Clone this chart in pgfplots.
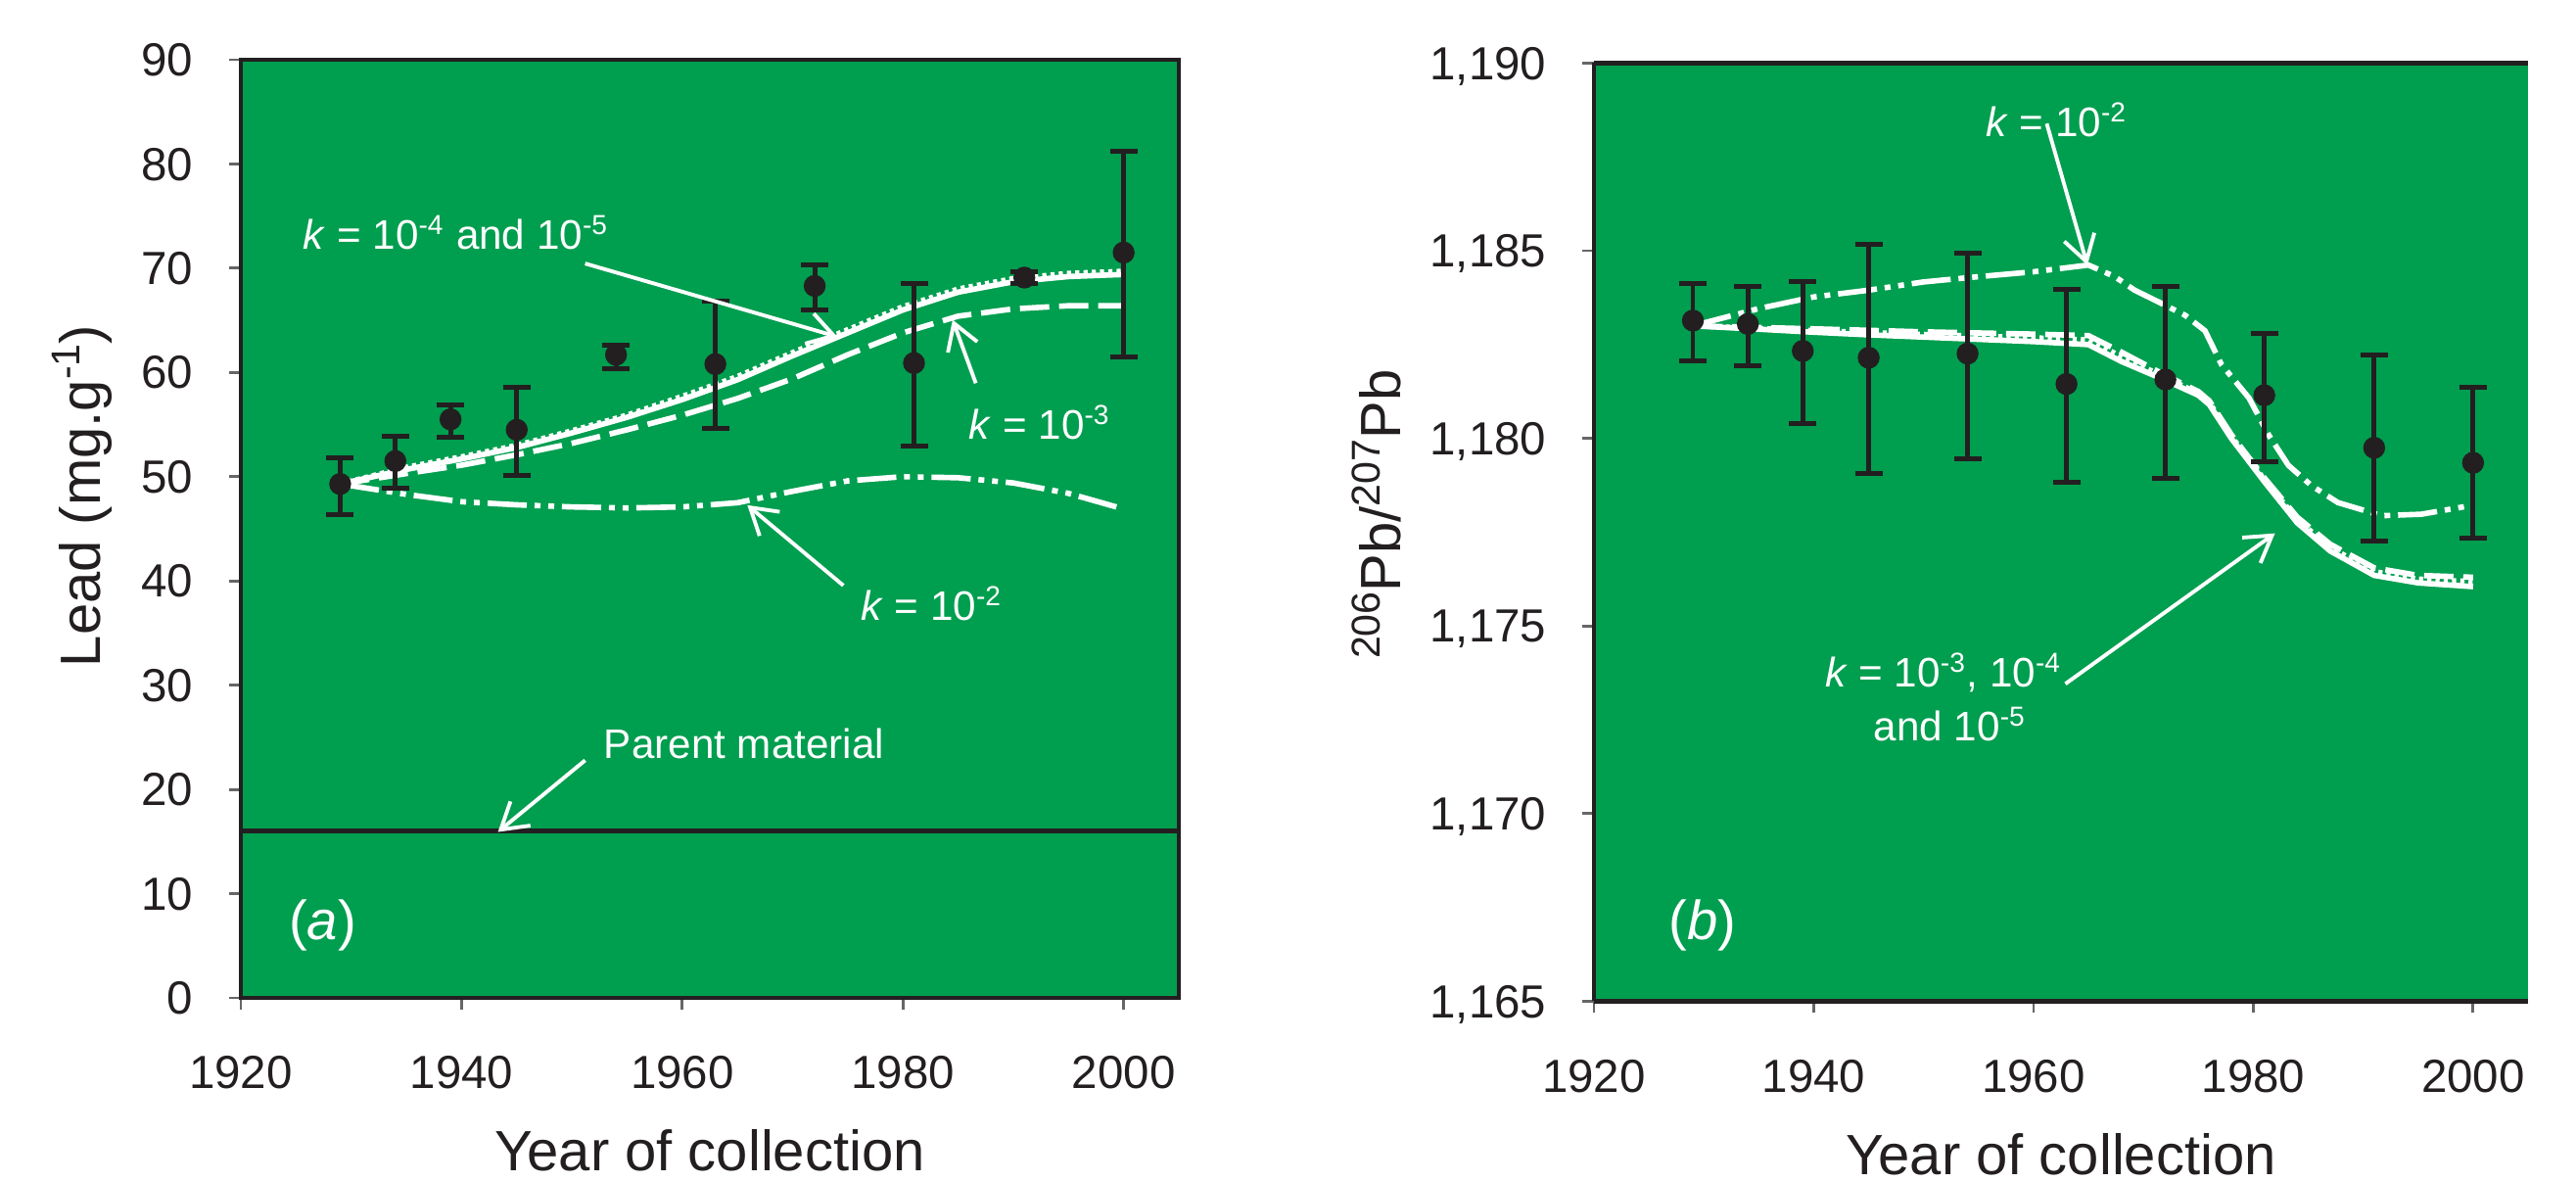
\documentclass[border=0pt]{standalone}
\usepackage{fontspec}
\setmainfont{Liberation Sans}
\usepackage{pgfplots}
\usepackage{pgfplotstable}
\pgfplotsset{compat=1.18}
\usetikzlibrary{arrows.meta}
\definecolor{pgreen}{RGB}{0,158,79}
\definecolor{pblack}{RGB}{35,31,32}

\pgfplotstableread{
x y ep em
1929 49.3 2.5 2.9
1934 51.5 2.4 2.6
1939 55.5 1.4 1.7
1945 54.5 4.1 4.4
1954 61.7 0.9 1.3
1963 60.8 6.0 6.2
1972 68.3 2.0 2.3
1981 60.9 7.6 8.0
1991 69.1 0.6 0.6
2000 71.5 9.7 10.0
}\leaddata

\pgfplotstableread{
x y ep em
1929 1.18314 0.00099 0.00108
1934 1.18305 0.00101 0.00112
1939 1.18233 0.00184 0.00193
1945 1.18215 0.00301 0.00309
1954 1.18226 0.00268 0.00280
1963 1.18145 0.00252 0.00262
1972 1.18157 0.00249 0.00263
1981 1.18115 0.00165 0.00176
1991 1.17975 0.00248 0.00248
2000 1.17935 0.00200 0.00201
}\ratiodata

\tikzset{
  ann/.style={font=\fontsize{12}{14}\selectfont, text=white, inner sep=0pt},
  arr/.style={draw=white, line width=1.1pt, -{Straight Barb[length=2.6mm,width=3.2mm]}},
}
\newcommand\labfont{\fontsize{16.5}{19}\selectfont}
\newcommand\labsup[1]{\raisebox{0.36em}{\fontsize{11.7}{14}\selectfont #1}}
\pgfplotsset{
  common/.style={
    scale only axis, height=95.8mm, anchor=south west,
    xmin=1920, xmax=2005, xtick={1920,1940,1960,1980,2000},
    axis background/.style={fill=pgreen},
    clip=false,
    tick align=outside, tick pos=left,
    major tick length=1.2mm,
    tick style={draw=black!60, line width=0.8pt},
    /pgf/number format/assume math mode=true,
    ticklabel style={font=\fontsize{13.5}{16}\selectfont, text=pblack, inner sep=0pt, text depth=0pt},
    xticklabel style={anchor=base, yshift=-8.1mm, /pgf/number format/1000 sep={}},
    yticklabel style={anchor=east, xshift=-3.6mm},
    every axis x label/.style={at={(axis description cs:0.5,0)}, anchor=base, yshift=-17.7mm, font=\labfont, text=pblack},
    xlabel={Year of collection},
  },
  wline/.style={white, line width=1.6pt, no marks},
  err/.style={only marks, mark=*, mark size=1.05mm, mark options={fill=pblack, draw=pblack},
    color=pblack, error bars/.cd, y dir=both, y explicit,
    error bar style={line width=1.4pt, pblack},
    error mark options={rotate=90, line width=1.4pt, mark size=1.4mm, pblack}},
}

\begin{document}
\begin{tikzpicture}
\useasboundingbox (0,0) rectangle (263.1mm,120.7mm);

% ---------------- panel (a) ----------------
\begin{axis}[common, at={(24.6mm,18.8mm)}, width=95.8mm,
  ymin=0, ymax=90, ytick={0,10,...,90},
  axis line style={line width=1.2pt, pblack}]
\addplot[pblack, line width=1.5pt, no marks] coordinates {(1920,16) (2005,16)};
% k = 1e-3 (dashed)
\addplot[wline, dash pattern=on 3mm off 1mm] coordinates {
(1929,49.3) (1935,50.3) (1940,51.1) (1945,52.1) (1950,53.2) (1955,54.5) (1960,55.9) (1965,57.5)
(1970,59.4) (1975,61.7) (1980,63.8) (1985,65.4) (1990,66.1) (1995,66.4) (2000,66.4)};
% k = 1e-4 (solid)
\addplot[wline] coordinates {
(1929,49.3) (1935,50.7) (1940,51.7) (1945,52.8) (1950,54.2) (1955,55.7) (1960,57.4) (1965,59.3)
(1970,61.6) (1975,63.8) (1980,66.0) (1985,67.7) (1990,68.7) (1995,69.2) (2000,69.4)};
% k = 1e-5 (dotted)
\addplot[wline, dash pattern=on 1.2pt off 1.2pt] coordinates {
(1929,49.3) (1935,50.9) (1940,51.9) (1945,53.0) (1950,54.4) (1955,55.9) (1960,57.7) (1965,59.6)
(1970,61.9) (1975,64.1) (1980,66.3) (1985,68.0) (1990,69.0) (1995,69.5) (2000,69.7)};
% k = 1e-2 (dash-dot-dot)
\addplot[wline, dash pattern=on 4mm off 0.8mm on 0.6mm off 0.8mm on 0.6mm off 0.8mm] coordinates {
(1929,49.3) (1935,48.3) (1940,47.6) (1945,47.3) (1950,47.1) (1955,47.0) (1960,47.1) (1965,47.5)
(1970,48.6) (1975,49.6) (1980,50.0) (1985,49.9) (1990,49.4) (1995,48.4) (2000,46.9)};
\addplot[err] table[x=x, y=y, y error plus=ep, y error minus=em] {\leaddata};

\node[rotate=90, anchor=base, font=\labfont, text=pblack] at (axis description cs:-0.150,0.535) {Lead (mg.g\labsup{-1})};

\node[ann, anchor=base] at (axis cs:1939.5,71.8) {\textit{k} = 10\textsuperscript{-4} and 10\textsuperscript{-5}};
\draw[arr] (axis cs:1951.2,70.45) -- (axis cs:1974.05,63.43);
\node[ann, anchor=base] at (axis cs:1992.4,53.6) {\textit{k} = 10\textsuperscript{-3}};
\draw[arr] (axis cs:1986.6,58.97) -- (axis cs:1984.5,65.05);
\node[ann, anchor=base] at (axis cs:1982.6,36.2) {\textit{k} = 10\textsuperscript{-2}};
\draw[arr] (axis cs:1974.6,39.56) -- (axis cs:1965.9,47.27);
\node[ann, anchor=base] at (axis cs:1965.6,23.0) {Parent material};
\draw[arr] (axis cs:1951.2,22.79) -- (axis cs:1943.3,15.92);
\node[ann, font=\fontsize{16}{19}\selectfont] at (axis cs:1927.4,7.0) {(\textit{a})};
\end{axis}

% ---------------- panel (b) ----------------
\begin{axis}[common, at={(162.8mm,18.45mm)}, width=95.4mm,
  ymin=1.165, ymax=1.190, ytick={1.165,1.170,1.175,1.180,1.185,1.190},
  yticklabel style={/pgf/number format/.cd, fixed, fixed zerofill, precision=3, use comma},
  axis x line*=box, axis y line*=left,
  axis line style={line width=1.2pt, pblack}]
% dashed
\addplot[wline, dash pattern=on 3mm off 1mm] coordinates {
(1929,1.18300) (1940,1.18292) (1950,1.18284) (1960,1.18278) (1965,1.18274) (1968,1.18230)
(1972,1.18168) (1975,1.18125) (1976,1.18100) (1978,1.18010) (1981,1.17895) (1984,1.17790)
(1987,1.17718) (1991,1.17655) (1995,1.17635) (2000,1.17630)};
% dotted
\addplot[wline, dash pattern=on 1.2pt off 1.2pt] coordinates {
(1929,1.18300) (1940,1.18287) (1950,1.18277) (1960,1.18268) (1965,1.18262) (1968,1.18218)
(1972,1.18162) (1975,1.18120) (1976,1.18095) (1978,1.18005) (1981,1.17890) (1984,1.17783)
(1987,1.17709) (1991,1.17645) (1995,1.17625) (2000,1.17618)};
% solid
\addplot[wline] coordinates {
(1929,1.18300) (1935,1.18291) (1940,1.18283) (1945,1.18276) (1950,1.18270) (1955,1.18264)
(1960,1.18258) (1965,1.18250) (1968,1.18205) (1972,1.18155) (1975,1.18115) (1976,1.18090)
(1978,1.18000) (1981,1.17885) (1984,1.17775) (1987,1.17700) (1991,1.17635) (1995,1.17615) (2000,1.17605)};
% k = 1e-2
\addplot[wline, dash pattern=on 4mm off 0.8mm on 0.6mm off 0.8mm on 0.6mm off 0.8mm] coordinates {
(1929,1.18300) (1935,1.18346) (1940,1.18377) (1945,1.18395) (1950,1.18417) (1955,1.18431)
(1960,1.18444) (1965,1.18462) (1967.4,1.18431) (1969.2,1.18395) (1971.7,1.18359) (1973.8,1.18328)
(1975.6,1.18287) (1977.1,1.18197) (1979.6,1.18108) (1981.4,1.18009) (1983.2,1.17928)
(1985.3,1.17874) (1987.7,1.17829) (1991.7,1.17794) (1995.3,1.17798) (1999.6,1.17820)};
\addplot[err] table[x=x, y=y, y error plus=ep, y error minus=em] {\ratiodata};

\node[rotate=90, anchor=base, font=\labfont, text=pblack] at (axis description cs:-0.2075,0.519) {\labsup{206}Pb/\labsup{207}Pb};

\node[ann, anchor=base] at (axis cs:1962.1,1.18803) {\textit{k} = 10\textsuperscript{-2}};
\draw[arr] (axis cs:1961.2,1.18839) -- (axis cs:1964.9,1.18462);
\node[ann, anchor=base] at (axis cs:1951.8,1.17337) {\textit{k} = 10\textsuperscript{-3}, 10\textsuperscript{-4}};
\node[ann, anchor=base] at (axis cs:1952.4,1.17193) {and 10\textsuperscript{-5}};
\draw[arr] (axis cs:1962.9,1.17346) -- (axis cs:1981.97,1.17747);
\node[ann, font=\fontsize{16}{19}\selectfont] at (axis cs:1929.9,1.16703) {(\textit{b})};
\end{axis}
\end{tikzpicture}
\end{document}
